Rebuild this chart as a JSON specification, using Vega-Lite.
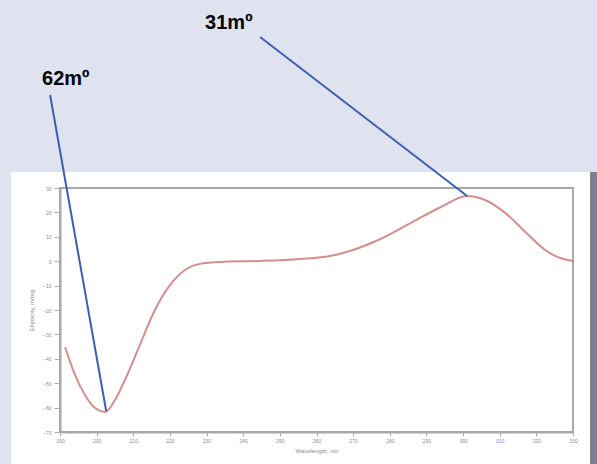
{
  "$schema": "https://vega.github.io/schema/vega-lite/v6.json",
  "width": 513,
  "height": 244,
  "autosize": {"type": "none"},
  "padding": {"left": 60, "top": 188, "right": 24, "bottom": 32},
  "background": "white",
  "config": {
    "view": {"stroke": "#a8a8a8", "strokeWidth": 2},
    "font": "Liberation Sans",
    "axisX": {
      "grid": false, "labelOverlap": false,
      "labelFontSize": 5, "labelColor": "#8c8c8c", "labelPadding": 2, "labelFlush": false,
      "tickColor": "#aaaaaa", "tickSize": 4, "domainColor": "#a8a8a8", "domainWidth": 2,
      "titleFontSize": 6, "titleColor": "#8c8c8c", "titleFontWeight": "normal", "titlePadding": 4
    },
    "axisY": {
      "grid": false, "labelOverlap": false,
      "labelFontSize": 5, "labelColor": "#8c8c8c", "labelPadding": 3, "labelFlush": false,
      "tickColor": "#aaaaaa", "tickSize": 6, "domainColor": "#a8a8a8", "domainWidth": 2,
      "titleFontSize": 6, "titleColor": "#8c8c8c", "titleFontWeight": "normal", "titlePadding": 8
    }
  },
  "datasets": {
    "curve": [
      {"wl": 191.4, "cd": -35.2},
      {"wl": 194.1, "cd": -46.6},
      {"wl": 196.8, "cd": -54.8},
      {"wl": 199.6, "cd": -60.2},
      {"wl": 202.3, "cd": -61.8},
      {"wl": 205.0, "cd": -56.9},
      {"wl": 207.7, "cd": -48.7},
      {"wl": 211.8, "cd": -34.3},
      {"wl": 215.9, "cd": -20.0},
      {"wl": 220.0, "cd": -9.8},
      {"wl": 224.1, "cd": -3.6},
      {"wl": 228.2, "cd": -1.1},
      {"wl": 233.7, "cd": -0.3},
      {"wl": 244.6, "cd": 0.1},
      {"wl": 255.5, "cd": 0.9},
      {"wl": 263.7, "cd": 2.1},
      {"wl": 269.1, "cd": 4.2},
      {"wl": 277.3, "cd": 9.0},
      {"wl": 285.5, "cd": 15.5},
      {"wl": 293.7, "cd": 22.0},
      {"wl": 301.1, "cd": 26.7},
      {"wl": 306.0, "cd": 25.1},
      {"wl": 311.5, "cd": 19.8},
      {"wl": 317.0, "cd": 12.0},
      {"wl": 322.4, "cd": 4.6},
      {"wl": 326.5, "cd": 1.3},
      {"wl": 330.0, "cd": 0.1}
    ],
    "lavender": [
      {"x1": 173.0, "x2": 337.0, "y1": 110.0, "y2": 36.56},
      {"x1": 173.0, "x2": 176.62, "y1": 36.56, "y2": -84.0}
    ],
    "strip": [
      {"x1": 334.65, "x2": 337.0, "y1": 36.56, "y2": -84.0}
    ],
    "labels": [
      {"x": 185.1, "y": 72.2, "label": "62mº"},
      {"x": 229.6, "y": 95.2, "label": "31mº"}
    ],
    "pointers": [
      {"x1": 187.3, "y1": 68.1, "x2": 202.6, "y2": -61.4},
      {"x1": 244.6, "y1": 91.9, "x2": 301.1, "y2": 26.7}
    ]
  },
  "layer": [
    {
      "data": {"name": "curve"},
      "mark": {"type": "line", "color": "#cc7a7a", "strokeWidth": 2, "opacity": 0.85, "interpolate": "monotone"},
      "encoding": {
        "x": {"field": "wl", "type": "quantitative", "title": "Wavelength, nm", "scale": {"domain": [190, 330], "nice": false, "zero": false},
          "axis": {"values": [190, 200, 210, 220, 230, 240, 250, 260, 270, 280, 290, 300, 310, 320, 330], "labelOverlap": false}},
        "y": {"field": "cd", "type": "quantitative", "title": "Ellipticity, mdeg", "scale": {"domain": [-70, 30], "nice": false, "zero": false},
          "axis": {"values": [-70, -60, -50, -40, -30, -20, -10, 0, 10, 20, 30], "labelOverlap": false}}
      }
    },
    {
      "data": {"name": "lavender"},
      "mark": {"type": "rect", "color": "#dfe3f0"},
      "encoding": {
        "x": {"field": "x1", "type": "quantitative", "title": "Wavelength, nm", "scale": {"domain": [190, 330], "nice": false, "zero": false},
          "axis": {"values": [190, 200, 210, 220, 230, 240, 250, 260, 270, 280, 290, 300, 310, 320, 330], "labelOverlap": false}},
        "x2": {"field": "x2"},
        "y": {"field": "y1", "type": "quantitative", "title": "Ellipticity, mdeg", "scale": {"domain": [-70, 30], "nice": false, "zero": false},
          "axis": {"values": [-70, -60, -50, -40, -30, -20, -10, 0, 10, 20, 30], "labelOverlap": false}},
        "y2": {"field": "y2"}
      }
    },
    {
      "data": {"name": "strip"},
      "mark": {"type": "rect", "color": "#7d818d"},
      "encoding": {
        "x": {"field": "x1", "type": "quantitative", "title": "Wavelength, nm", "scale": {"domain": [190, 330], "nice": false, "zero": false},
          "axis": {"values": [190, 200, 210, 220, 230, 240, 250, 260, 270, 280, 290, 300, 310, 320, 330], "labelOverlap": false}},
        "x2": {"field": "x2"},
        "y": {"field": "y1", "type": "quantitative", "title": "Ellipticity, mdeg", "scale": {"domain": [-70, 30], "nice": false, "zero": false},
          "axis": {"values": [-70, -60, -50, -40, -30, -20, -10, 0, 10, 20, 30], "labelOverlap": false}},
        "y2": {"field": "y2"}
      }
    },
    {
      "data": {"name": "pointers"},
      "mark": {"type": "rule", "color": "#3d5fae", "strokeWidth": 2},
      "encoding": {
        "x": {"field": "x1", "type": "quantitative", "title": "Wavelength, nm", "scale": {"domain": [190, 330], "nice": false, "zero": false},
          "axis": {"values": [190, 200, 210, 220, 230, 240, 250, 260, 270, 280, 290, 300, 310, 320, 330], "labelOverlap": false}},
        "x2": {"field": "x2"},
        "y": {"field": "y1", "type": "quantitative", "title": "Ellipticity, mdeg", "scale": {"domain": [-70, 30], "nice": false, "zero": false},
          "axis": {"values": [-70, -60, -50, -40, -30, -20, -10, 0, 10, 20, 30], "labelOverlap": false}},
        "y2": {"field": "y2"}
      }
    },
    {
      "data": {"name": "labels"},
      "mark": {"type": "text", "fontSize": 20, "fontWeight": "bold", "align": "left", "baseline": "alphabetic", "color": "#000000", "font": "Liberation Sans"},
      "encoding": {
        "x": {"field": "x", "type": "quantitative", "title": "Wavelength, nm", "scale": {"domain": [190, 330], "nice": false, "zero": false},
          "axis": {"values": [190, 200, 210, 220, 230, 240, 250, 260, 270, 280, 290, 300, 310, 320, 330], "labelOverlap": false}},
        "y": {"field": "y", "type": "quantitative", "title": "Ellipticity, mdeg", "scale": {"domain": [-70, 30], "nice": false, "zero": false},
          "axis": {"values": [-70, -60, -50, -40, -30, -20, -10, 0, 10, 20, 30], "labelOverlap": false}},
        "text": {"field": "label"}
      }
    }
  ]
}
